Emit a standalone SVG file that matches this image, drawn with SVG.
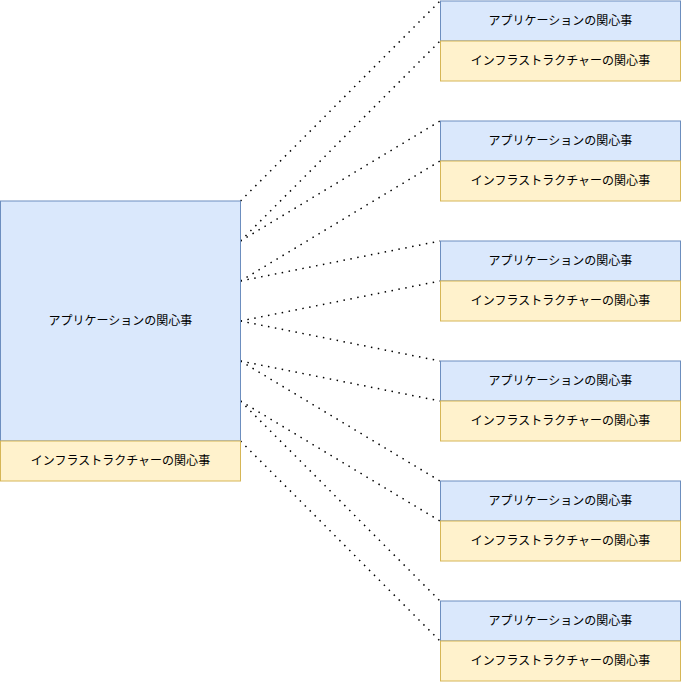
<svg xmlns="http://www.w3.org/2000/svg" width="681" height="682" viewBox="0 0 681 682">
<style>
.app{fill:#dae8fc;stroke:#6c8ebf;stroke-width:1}
.inf{fill:#fff2cc;stroke:#d6b656;stroke-width:1}
text{font-family:"Liberation Sans","Noto Sans CJK JP",sans-serif;font-size:12px;fill:#000;text-anchor:middle;dominant-baseline:central}
.c{stroke:#000;stroke-width:1.5;stroke-dasharray:1.5 5.5;fill:none}
</style>
<rect width="681" height="682" fill="#fff"/>
<g id="connectors">
<line class="c" x1="240.5" y1="201" x2="440" y2="1"/>
<line class="c" x1="240.5" y1="241" x2="440" y2="41"/>
<line class="c" x1="240.5" y1="241" x2="440" y2="121"/>
<line class="c" x1="240.5" y1="281" x2="440" y2="161"/>
<line class="c" x1="240.5" y1="281" x2="440" y2="241"/>
<line class="c" x1="240.5" y1="321" x2="440" y2="281"/>
<line class="c" x1="240.5" y1="321" x2="440" y2="361"/>
<line class="c" x1="240.5" y1="361" x2="440" y2="401"/>
<line class="c" x1="240.5" y1="361" x2="440" y2="481"/>
<line class="c" x1="240.5" y1="401" x2="440" y2="521"/>
<line class="c" x1="240.5" y1="401" x2="440" y2="601"/>
<line class="c" x1="240.5" y1="441" x2="440" y2="641"/>
</g>
<g id="left">
<rect class="app" x="0.5" y="201" width="240" height="240"/>
<text x="120.5" y="321">アプリケーションの関心事</text>
<rect class="inf" x="0.5" y="441" width="240" height="40"/>
<text x="120.5" y="461">インフラストラクチャーの関心事</text>
</g>
<g id="r1">
<rect class="app" x="440.5" y="1" width="240" height="40"/>
<text x="560.5" y="21">アプリケーションの関心事</text>
<rect class="inf" x="440.5" y="41" width="240" height="40"/>
<text x="560.5" y="61">インフラストラクチャーの関心事</text>
</g>
<g id="r2">
<rect class="app" x="440.5" y="121" width="240" height="40"/>
<text x="560.5" y="141">アプリケーションの関心事</text>
<rect class="inf" x="440.5" y="161" width="240" height="40"/>
<text x="560.5" y="181">インフラストラクチャーの関心事</text>
</g>
<g id="r3">
<rect class="app" x="440.5" y="241" width="240" height="40"/>
<text x="560.5" y="261">アプリケーションの関心事</text>
<rect class="inf" x="440.5" y="281" width="240" height="40"/>
<text x="560.5" y="301">インフラストラクチャーの関心事</text>
</g>
<g id="r4">
<rect class="app" x="440.5" y="361" width="240" height="40"/>
<text x="560.5" y="381">アプリケーションの関心事</text>
<rect class="inf" x="440.5" y="401" width="240" height="40"/>
<text x="560.5" y="421">インフラストラクチャーの関心事</text>
</g>
<g id="r5">
<rect class="app" x="440.5" y="481" width="240" height="40"/>
<text x="560.5" y="501">アプリケーションの関心事</text>
<rect class="inf" x="440.5" y="521" width="240" height="40"/>
<text x="560.5" y="541">インフラストラクチャーの関心事</text>
</g>
<g id="r6">
<rect class="app" x="440.5" y="601" width="240" height="40"/>
<text x="560.5" y="621">アプリケーションの関心事</text>
<rect class="inf" x="440.5" y="641" width="240" height="40"/>
<text x="560.5" y="661">インフラストラクチャーの関心事</text>
</g>
</svg>
